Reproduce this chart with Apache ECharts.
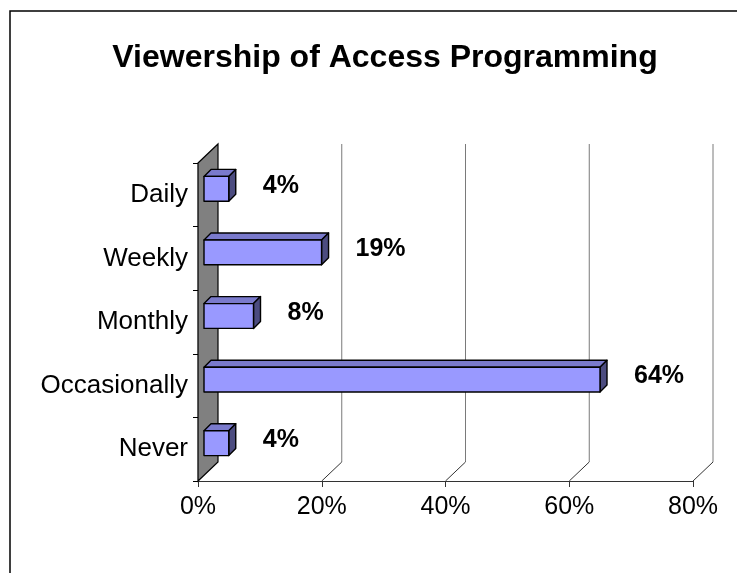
<!DOCTYPE html>
<html>
<head>
<meta charset="utf-8">
<script src="https://cdn.jsdelivr.net/npm/echarts@6/dist/echarts.min.js"></script>
<style>
  html, body { margin: 0; padding: 0; background: #fff; }
  #chart { width: 737px; height: 573px; }
</style>
</head>
<body>
<div id="chart"></div>
<script>
// Survey answers: how often people watch Access programming
const categories = ['Daily', 'Weekly', 'Monthly', 'Occasionally', 'Never'];
const viewers = [4, 19, 8, 64, 4];
const pctTicks = [0, 20, 40, 60, 80];

const FONT = '"Liberation Sans", Arial, Helvetica, sans-serif';
// Depth of the pseudo-3D plot box (back wall offset)
const WALL_DX = 20, WALL_DY = -19;
// Bars sit in the middle of that depth
const BAR_FRONT = 6, BAR_DEPTH = 7;

const chart = echarts.init(document.getElementById('chart'), null, { renderer: 'canvas' });

// Side wall and back-wall gridlines, placed through the x scale
function renderWall(params, api) {
  const cs = params.coordSys;
  const top = cs.y, bottom = cs.y + cs.height;
  const x = api.coord([api.value(0), 0])[0];
  if (api.value(0) === 0) {
    return {
      type: 'polygon',
      shape: { points: [[x, top], [x + WALL_DX, top + WALL_DY], [x + WALL_DX, bottom + WALL_DY], [x, bottom]] },
      style: { fill: '#808080', stroke: '#000', lineWidth: 1.2 }
    };
  }
  return {
    type: 'group',
    children: [
      {
        type: 'line',
        shape: { x1: x + WALL_DX, y1: top + WALL_DY, x2: x + WALL_DX, y2: bottom + WALL_DY },
        style: { stroke: '#7a7a7a', lineWidth: 1 }
      },
      {
        type: 'line',
        shape: { x1: x + WALL_DX, y1: bottom + WALL_DY, x2: x, y2: bottom },
        style: { stroke: '#333', lineWidth: 1 }
      }
    ]
  };
}

// Extruded horizontal bar with its value label
function renderBar(params, api) {
  const v = api.value(0), idx = api.value(1);
  const start = api.coord([0, idx]);
  const end = api.coord([v, idx]);
  const band = api.size([0, 1])[1];
  const h = band * 0.39;
  const x0 = start[0] + BAR_FRONT, x1 = end[0] + BAR_FRONT;
  const cy = end[1] - BAR_FRONT;
  const y0 = cy - h / 2, y1 = cy + h / 2;
  const d = BAR_DEPTH;
  const edge = { stroke: '#000', lineWidth: 1.4, lineJoin: 'round' };
  return {
    type: 'group',
    children: [
      {
        type: 'polygon',
        shape: { points: [[x0, y0], [x0 + d, y0 - d], [x1 + d, y0 - d], [x1, y0]] },
        style: Object.assign({ fill: '#7A7ACC' }, edge)
      },
      {
        type: 'polygon',
        shape: { points: [[x1, y0], [x1 + d, y0 - d], [x1 + d, y1 - d], [x1, y1]] },
        style: Object.assign({ fill: '#4C4C80' }, edge)
      },
      {
        type: 'rect',
        shape: { x: x0, y: y0, width: x1 - x0, height: y1 - y0 },
        style: Object.assign({ fill: '#9999FF' }, edge)
      },
      {
        type: 'text',
        style: {
          x: x1 + 34, y: cy - 3,
          text: v + '%',
          fill: '#000',
          font: 'bold 25px ' + FONT,
          textAlign: 'left',
          textVerticalAlign: 'middle'
        }
      }
    ]
  };
}

chart.setOption({
  animation: false,
  backgroundColor: '#fff',
  title: {
    text: 'Viewership of Access Programming',
    left: 380,
    textAlign: 'center',
    top: 37,
    textStyle: { fontFamily: FONT, fontWeight: 'bold', fontSize: 32, color: '#000' }
  },
  graphic: [
    {
      type: 'rect',
      z: -10,
      shape: { x: 10, y: 11, width: 780, height: 620 },
      style: { fill: 'none', stroke: '#000', lineWidth: 1.5 }
    }
  ],
  grid: { left: 198, right: 44, top: 163, bottom: 92, containLabel: false },
  xAxis: {
    type: 'value',
    min: 0,
    max: 80,
    interval: 20,
    splitLine: { show: false },
    axisLine: { show: true, lineStyle: { color: '#333', width: 1 } },
    axisTick: { show: true, length: 6, lineStyle: { color: '#333' } },
    axisLabel: {
      formatter: '{value}%',
      margin: 14,
      color: '#000',
      fontFamily: FONT,
      fontSize: 25
    }
  },
  yAxis: {
    type: 'category',
    data: categories,
    inverse: true,
    axisLine: { show: true, lineStyle: { color: '#000', width: 1.2 } },
    axisTick: { show: true, length: 5, lineStyle: { color: '#000' } },
    axisLabel: {
      margin: 10,
      color: '#000',
      fontFamily: FONT,
      fontSize: 26,
      padding: [0, 0, 8, 0]
    }
  },
  series: [
    {
      type: 'custom',
      name: 'walls',
      renderItem: renderWall,
      data: pctTicks.map(t => [t, 0]),
      encode: { x: 0, y: 1 },
      silent: true,
      z: 1
    },
    {
      type: 'custom',
      name: 'Viewership',
      renderItem: renderBar,
      data: viewers.map((v, i) => [v, i]),
      encode: { x: 0, y: 1 },
      z: 5
    }
  ]
});
</script>
</body>
</html>
